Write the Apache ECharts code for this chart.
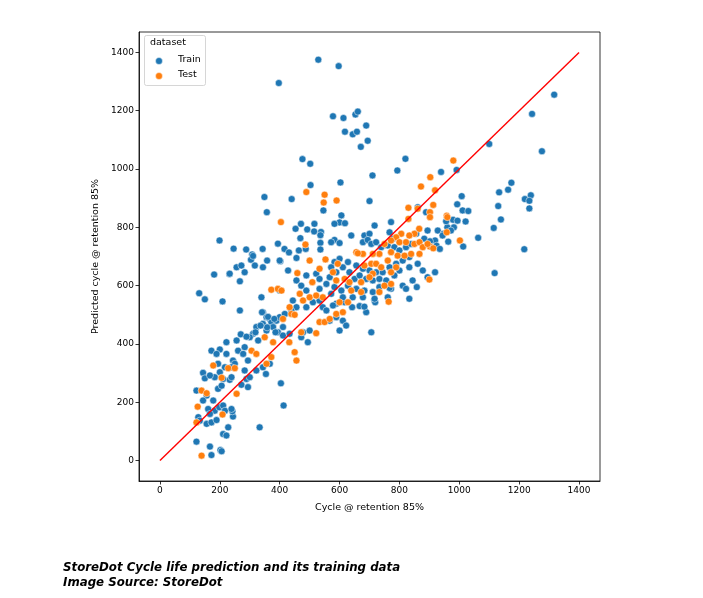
<!DOCTYPE html>
<html>
<head>
<meta charset="utf-8">
<script src="https://cdn.jsdelivr.net/npm/echarts@6/dist/echarts.min.js"></script>
<style>
html,body{margin:0;padding:0;background:#fff;}
#chart{width:703px;height:598px;}
</style>
</head>
<body>
<div id="chart"></div>
<script>
// Train set: [cycle @ retention 85%, predicted cycle]
const trainPoints = [
[529,1375],[597,1353],[397,1295],[578,1181],[613,1175],[653,1187],[661,1197],[618,1128],[644,1119],[658,1128],[689,1149],[694,1097],[671,1076],[476,1034],[502,1018],[503,945],[603,954],[349,904],[440,897],[357,852],[546,858],[471,812],[453,795],[492,793],[516,812],[538,784],[536,773],[515,786],[199,755],[246,727],[288,724],[343,726],[394,744],[416,726],[431,714],[464,721],[487,726],[469,763],[536,747],[536,724],[308,707],
[304,689],[311,702],[358,686],[402,684],[456,695],
[181,638],[232,640],[354,297],[404,265],[413,189],[267,615],
[131,574],[150,553],[209,546],[222,406],[172,377],[200,381],[189,366],[222,366],[217,320],[200,303],[183,286],[144,301],[150,282],[167,292],[122,240],[194,246],[206,257],[211,280],[194,332],[156,223],[144,206],[178,206],[161,177],[183,171],[198,183],[167,160],[128,149],[133,137],[156,126],[172,131],[189,139],[211,189],[217,171],[228,114],[211,91],[222,86],[122,65],[167,48],[172,19],[202,36],[206,32],[233,277],[239,286],[289,280],[294,252],[300,286],[272,260],[244,151],[242,169],[239,177],[333,114],[283,309],[322,309],
[256,663],[272,669],[283,646],[233,641],[317,669],[344,663],[400,686],[428,652],[489,635],[522,641],[533,623],[339,560],[400,583],[444,549],[456,618],[472,600],[489,583],[533,589],[556,606],[456,526],[489,526],[511,543],[533,549],[544,526],[589,538],[617,543],[267,515],[344,509],[356,492],[367,486],[372,475],[389,480],[400,492],[411,458],[378,458],[344,469],[322,458],[311,435],[328,412],[256,412],[261,377],[283,389],[300,423],[356,446],[394,440],[411,429],[433,435],[472,423],[494,406],[478,440],[500,446],[244,343],[250,332],[278,366],[294,343],[239,320],[344,320],[367,332],[567,480],[589,492],[611,480],[622,463],[600,446],[578,532],[556,515],
[341,509],[361,493],[382,486],[417,503],[439,514],[358,457],[336,463],[319,440],[386,440],[270,433],[289,425],
[689,509],[667,530],[683,528],[642,526],[716,552],[719,543],[706,440],[1118,643],[919,646],
[700,890],[606,841],[600,817],[618,814],[583,812],[639,772],[583,757],[572,749],[600,746],[683,772],[700,778],[678,749],[694,757],[706,743],[722,749],[717,806],[772,818],[767,783],[778,761],[761,738],[739,732],[783,732],[800,721],[822,732],[839,743],[856,778],[894,789],[883,761],[833,698],[811,686],[789,675],[767,663],[744,646],[722,646],[700,652],[678,658],[656,669],[628,681],[600,692],[583,681],[572,663],[589,646],[611,663],[633,646],[650,623],[667,635],[689,623],[711,618],[733,623],[756,618],[783,635],[800,652],[833,663],[861,675],[878,652],[894,629],[844,618],[811,600],[772,589],[733,595],[711,578],[683,583],[656,589],[628,600],[606,583],[583,595],[572,572],[611,560],[644,560],[678,560],[717,555],[767,592],[822,589],[858,595],[833,555],[761,560],[567,629],[861,869],[889,852],
[710,978],[1317,1255],[1243,1189],[1100,1086],[1276,1061],[820,1035],[793,995],[939,990],[991,997],[1174,953],[1163,929],[1133,920],[1008,907],[993,879],[1011,858],[1030,856],[1130,873],[1139,827],[1219,897],[1239,910],[1234,891],[1234,865],[1021,820],[979,826],[982,800],[1115,798],[1063,764],[1217,725],[1013,734],[963,751],[960,800],[928,789],[947,778],[919,755],[902,752],[924,737],[935,726],[956,821],[972,789],[994,823],[944,772]
];

// Test set
const testPoints = [
[489,921],[550,912],[547,885],[590,892],[404,818],[486,741],
[980,1029],[903,972],[872,940],[919,927],[913,877],[902,852],[902,835],[958,840],[960,835],[1002,755],[902,734],[913,728],[958,783],
[900,621],[764,545],
[372,586],[394,589],[406,583],[467,572],[478,549],[500,560],[522,566],[544,560],[433,526],[439,503],[411,486],[533,475],[550,475],[567,486],[589,503],[611,509],[600,543],[628,543],[472,440],[522,437],[350,423],[378,406],[306,377],[322,366],[372,355],[456,343],[356,332],[450,372],[533,658],[500,686],
[228,317],[178,326],[206,284],[139,240],[156,231],[126,185],[209,158],[139,17],[122,131],[256,229],[250,317],
[432,406],[459,643],[553,690],[509,612],[450,500],
[830,867],[830,829],[861,864],[866,795],[850,778],[833,772],[806,778],[789,766],[772,755],[800,749],[822,749],[850,743],[867,749],[878,732],[894,743],[750,743],[733,709],[711,709],[678,709],[656,715],[661,711],[772,715],[794,703],[817,703],[839,709],[867,709],[594,675],[578,646],[589,618],[617,623],[633,612],[639,583],[683,669],[706,675],[722,675],[711,641],[700,629],[739,663],[761,686],[789,663],[772,646],[672,612],[672,578],[733,578],[750,600],[772,606]
];

// Identity reference line
const identityLine = [[0,0],[1400,1400]];
const tickValues = [0,200,400,600,800,1000,1200,1400];
const axisRange = [-70,1470];
const legendItems = ['Train','Test'];
const colors = ['#1f77b4','#ff7f0e'];
const xTitle = 'Cycle @ retention 85%';
const yTitle = 'Predicted cycle @ retention 85%';
const captionLines = ['StoreDot Cycle life prediction and its training data','Image Source: StoreDot'];

const chart = echarts.init(document.getElementById('chart'), null, {renderer:'canvas'});
const font = 'DejaVu Sans';
const axisCommon = {
  type:'value', min:axisRange[0], max:axisRange[1],
  axisLine:{show:true, onZero:false, lineStyle:{color:'#000', width:0.8}},
  axisTick:{show:true, length:3.5, lineStyle:{color:'#000', width:0.8}, customValues:tickValues},
  axisLabel:{color:'#000', fontFamily:font, fontSize:9, customValues:tickValues, margin:5, formatter:function(v){return String(v);}},
  splitLine:{show:false},
  nameLocation:'middle',
  nameTextStyle:{color:'#000', fontFamily:font, fontSize:9.5}
};
const scatterCommon = {type:'scatter', symbol:'circle', symbolSize:7};
chart.setOption({
  backgroundColor:'#fff',
  animation:false,
  grid:{left:139, top:32, width:461, height:449, show:true, borderColor:'#000', borderWidth:0.8, backgroundColor:'transparent'},
  xAxis:Object.assign({}, axisCommon, {name:xTitle, nameGap:22}),
  yAxis:Object.assign({}, axisCommon, {name:yTitle, nameGap:30}),
  series:[
    Object.assign({}, scatterCommon, {name:legendItems[0], data:trainPoints, itemStyle:{color:colors[0], opacity:1, borderColor:'#fff', borderWidth:0.5}}),
    Object.assign({}, scatterCommon, {name:legendItems[1], data:testPoints, itemStyle:{color:colors[1], opacity:1, borderColor:'#fff', borderWidth:0.5}}),
    {type:'line', data:identityLine, showSymbol:false, symbol:'none', lineStyle:{color:'#ff0000', width:1.4}, z:5}
  ],
  graphic:[
    {type:'rect', shape:{x:144.5, y:35.5, width:61, height:50, r:2}, style:{fill:'rgba(255,255,255,0.8)', stroke:'#cccccc', lineWidth:0.8}, z:10},
    {type:'text', x:150, y:38, style:{text:'dataset', font:'9.5px "DejaVu Sans"', fill:'#000'}, z:11},
    {type:'circle', shape:{cx:159, cy:61, r:3.5}, style:{fill:colors[0], stroke:'#fff', lineWidth:0.5}, z:11},
    {type:'text', x:178, y:55, style:{text:legendItems[0], font:'9.5px "DejaVu Sans"', fill:'#000'}, z:11},
    {type:'circle', shape:{cx:159, cy:76, r:3.5}, style:{fill:colors[1], stroke:'#fff', lineWidth:0.5}, z:11},
    {type:'text', x:178, y:70, style:{text:legendItems[1], font:'9.5px "DejaVu Sans"', fill:'#000'}, z:11},
    {type:'text', x:63, y:562, style:{text:captionLines[0], font:'italic bold 11.8px "DejaVu Sans"', fill:'#000'}},
    {type:'text', x:63, y:577, style:{text:captionLines[1], font:'italic bold 11.8px "DejaVu Sans"', fill:'#000'}}
  ]
});
</script>
</body>
</html>
